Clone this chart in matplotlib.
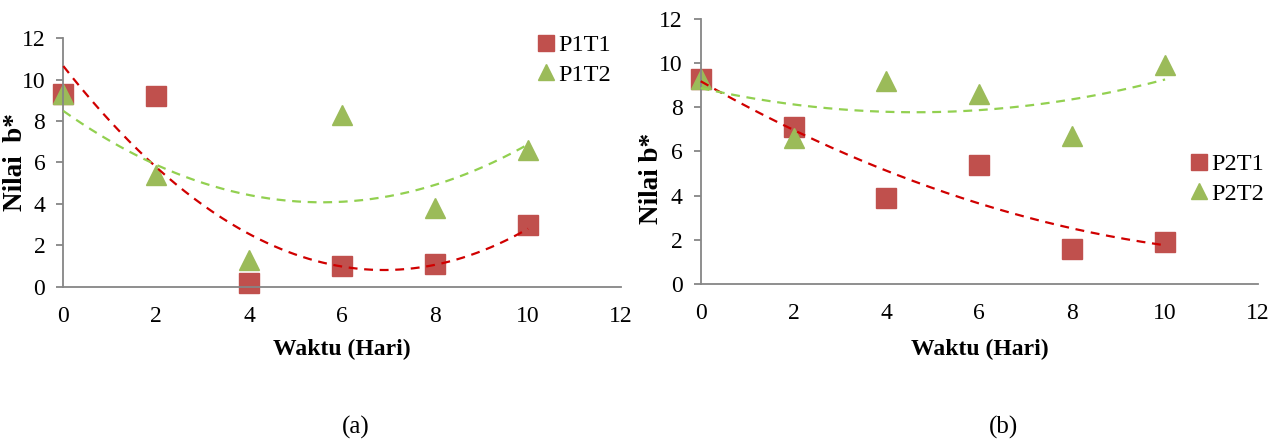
import matplotlib
matplotlib.use('Agg')
import matplotlib.pyplot as plt
import numpy as np

# Nilai b* over storage time (days)
hari = [0, 2, 4, 6, 8, 10]

p1t1 = [9.3, 9.2, 0.2, 1.0, 1.1, 3.0]
p1t2 = [9.3, 5.4, 1.3, 8.3, 3.8, 6.6]

p2t1 = [9.3, 7.1, 3.9, 5.4, 1.6, 1.9]
p2t2 = [9.3, 6.6, 9.2, 8.6, 6.7, 9.9]

plt.rcParams['font.family'] = ['Liberation Serif', 'DejaVu Serif']

RED = '#C0504D'
GREEN = '#9BBB59'
RED_TREND = '#D00000'
GREEN_TREND = '#92D050'
SPINE = '#868686'


def draw_panel(ax, s1, s2, names, ylabel, ylab_xy, xlab_y, leg_anchor):
    x = np.array(hari, dtype=float)

    # second order polynomial trendlines
    xx = np.linspace(0, 10, 200)
    for s, c in ((s1, RED_TREND), (s2, GREEN_TREND)):
        coef = np.polyfit(x, s, 2)
        ax.plot(xx, np.polyval(coef, xx), ls=(0, (4, 3)), lw=1.6, color=c,
                zorder=3, clip_on=False)

    ax.plot(x, s1, ls='none', marker='s', ms=14, color=RED, label=names[0],
            zorder=2, clip_on=False)
    ax.plot(x, s2, ls='none', marker='^', ms=15, color=GREEN, label=names[1],
            zorder=2, clip_on=False)

    ax.set_xlim(0, 12)
    ax.set_ylim(0, 12)
    ax.set_xticks(range(0, 13, 2))
    ax.set_yticks(range(0, 13, 2))
    for side in ('top', 'right'):
        ax.spines[side].set_visible(False)
    for side in ('left', 'bottom'):
        ax.spines[side].set_color(SPINE)
        ax.spines[side].set_linewidth(1.3)
    ax.tick_params(axis='y', length=5, width=1.3, color=SPINE, labelsize=17, pad=8)
    ax.tick_params(axis='x', length=0, labelsize=17, pad=14)
    ax.set_xlabel('Waktu (Hari)', fontsize=17, fontweight='bold')
    ax.set_ylabel(ylabel, fontsize=19.5, fontweight='bold')
    ax.yaxis.set_label_coords(*ylab_xy)
    ax.xaxis.set_label_coords(0.5, xlab_y)
    ax.legend(loc='upper left', bbox_to_anchor=leg_anchor, frameon=False,
              fontsize=17.5, handletextpad=0.0, labelspacing=0.3,
              borderaxespad=0, handlelength=1.0, markerscale=0.8)


fig = plt.figure(figsize=(12.77, 4.42), dpi=100)
ax0 = fig.add_axes([0.0496, 0.3514, 0.4367, 0.562])
ax1 = fig.add_axes([0.5487, 0.3575, 0.4364, 0.5995])

draw_panel(ax0, p1t1, p1t2, ('P1T1', 'P1T2'), 'Nilai  b*',
           (-0.063, 0.5), -0.212, (0.827, 1.055))
draw_panel(ax1, p2t1, p2t2, ('P2T1', 'P2T2'), 'Nilai b*',
           (-0.066, 0.40), -0.208, (0.855, 0.53))

fig.text(356 / 1277, 1 - 427 / 442, '(a)', ha='center', va='center', fontsize=18)
fig.text(1003 / 1277, 1 - 427 / 442, '(b)', ha='center', va='center', fontsize=18)

fig.savefig('out.png', dpi=100)
